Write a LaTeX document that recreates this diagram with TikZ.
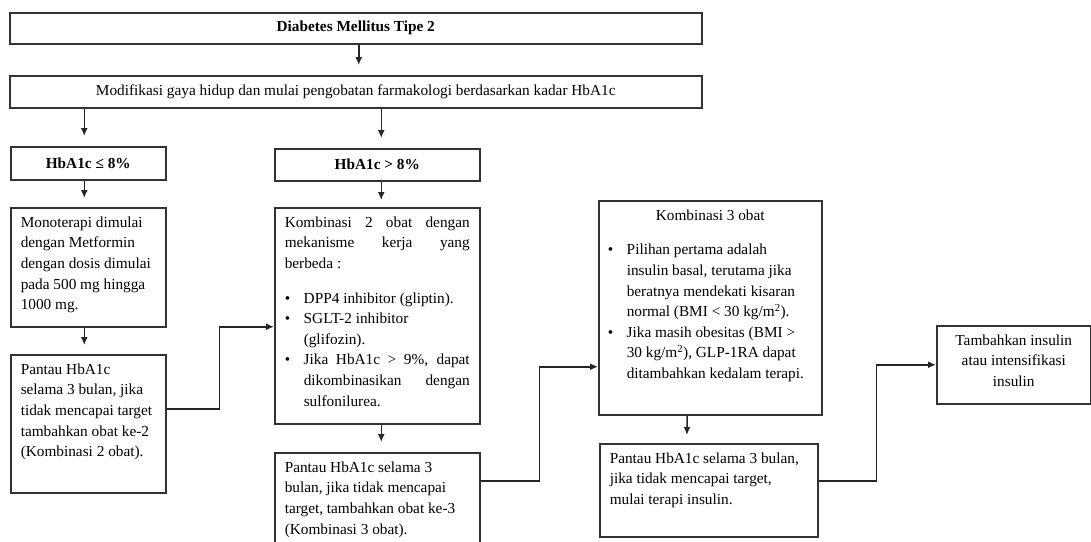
\documentclass[tikz,border=0pt]{standalone}
\usepackage{fontspec}
\setmainfont{Liberation Serif}
\usetikzlibrary{arrows.meta}

% butir daftar dengan indentasi gantung
\newcommand{\butir}{\par\noindent\hangindent=19pt\hangafter=1\makebox[19pt][l]{\textbullet}}
% isi kotak: lebar, tinggi, teks (rata atas)
\newcommand{\isi}[3]{\parbox[c][#2pt][t]{#1pt}{\vspace*{9pt}#3}}

\tikzset{
  kotak/.style={draw=black!80, line width=1.5pt, inner xsep=10pt, inner ysep=0pt,
    anchor=north west, font=\fontsize{15.3}{20.6}\selectfont},
  panah/.style={-{Latex[length=8pt,width=7pt]}, line width=1.5pt, draw=black!85},
}

\begin{document}
\begin{tikzpicture}[x=1pt,y=-1pt]
\useasboundingbox (0,0) rectangle (1091,541);
\clip (0,0) rectangle (1091,541);

%baris atas
\node[kotak, inner xsep=0pt, minimum width=692pt, minimum height=31pt] (judul) at (9,12) {\textbf{Diabetes Mellitus Tipe 2}};
\node[kotak, inner xsep=0pt, minimum width=692pt, minimum height=32pt] (modif) at (9,75) {Modifikasi gaya hidup dan mulai pengobatan farmakologi berdasarkan kadar HbA1c};

%kadar HbA1c
\node[kotak, inner xsep=0pt, minimum width=155pt, minimum height=33pt] (hbkecil) at (10,146) {\textbf{HbA1c ≤ 8\%}};
\node[kotak, inner xsep=0pt, minimum width=205pt, minimum height=32pt] (hbbesar) at (274,148) {\textbf{HbA1c > 8\%}};

%kolom kiri
\node[kotak] (mono) at (10,207) {\isi{135}{119}{Monoterapi dimulai\\dengan Metformin\\dengan dosis dimulai\\pada 500 mg hingga\\1000 mg.}};
\node[kotak] (pantaua) at (10,354) {\isi{135}{138}{Pantau HbA1c\\selama 3 bulan, jika\\tidak mencapai target\\tambahkan obat ke-2\\(Kombinasi 2 obat).}};

%kolom tengah
\node[kotak] (kombia) at (274,207) {\isi{185}{216}{Kombinasi 2 obat dengan\linebreak mekanisme kerja yang\linebreak berbeda :\par\vspace{14pt}
  \butir DPP4 inhibitor (gliptin).
  \butir SGLT-2 inhibitor\\(glifozin).
  \butir Jika HbA1c > 9\%, dapat\linebreak dikombinasikan dengan\linebreak sulfonilurea.}};
\node[kotak] (pantaub) at (274,452) {\isi{185}{100}{Pantau HbA1c selama 3\\bulan, jika tidak mencapai\\target, tambahkan obat ke-3\\(Kombinasi 3 obat).}};

%kolom kanan
\node[kotak, inner xsep=9pt] (kombib) at (598,200) {\isi{205}{214}{{\centering Kombinasi 3 obat\par}\vspace{14pt}
  \butir Pilihan pertama adalah\\insulin basal, terutama jika\\beratnya mendekati kisaran\\normal (BMI < 30 kg/m\textsuperscript{2}).
  \butir Jika masih obesitas (BMI >\\30 kg/m\textsuperscript{2}), GLP-1RA dapat\\ditambahkan kedalam terapi.}};
\node[kotak] (pantauc) at (599,443) {\isi{198}{93}{Pantau HbA1c selama 3 bulan,\\jika tidak mencapai target,\\mulai terapi insulin.}};
\node[kotak, inner xsep=5pt] (tambah) at (936,325) {\isi{144}{78}{\centering Tambahkan insulin\\atau intensifikasi\\insulin}};

%panah
\draw[panah, shorten >=10pt] ([xshift=3pt]judul.south) -- ([xshift=3pt]modif.north);
\draw[panah, shorten >=10pt] ([xshift=-4pt]modif.south -| hbkecil.north) -- ([xshift=-4pt]hbkecil.north);
\draw[panah, shorten >=10pt] ([xshift=4pt]modif.south -| hbbesar.north) -- ([xshift=4pt]hbbesar.north);
\draw[panah, shorten >=9pt] ([xshift=-4pt]hbkecil.south) -- ([xshift=-4pt]mono.north);
\draw[panah, shorten >=7pt] ([xshift=4pt]hbbesar.south) -- ([xshift=4pt]kombia.north);
\draw[panah, shorten >=9pt] ([xshift=-4pt]mono.south) -- ([xshift=-4pt]pantaua.north);
\draw[panah, shorten >=10pt] ([xshift=4pt]kombia.south) -- ([xshift=4pt]pantaub.north);
\draw[panah, shorten >=8pt] ([xshift=-23pt]kombib.south) -- ([xshift=-22pt]pantauc.north);

\draw[panah] ([yshift=15pt]pantaua.east) -- ++(53,0) |- ([yshift=-11pt]kombia.west);
\draw[panah] ([yshift=22pt]pantaub.east) -- ++(59,0) |- ([yshift=-59pt]kombib.west);
\draw[panah] ([yshift=9.5pt]pantauc.east) -- ++(58,0) |- (tambah.west);
\end{tikzpicture}
\end{document}
